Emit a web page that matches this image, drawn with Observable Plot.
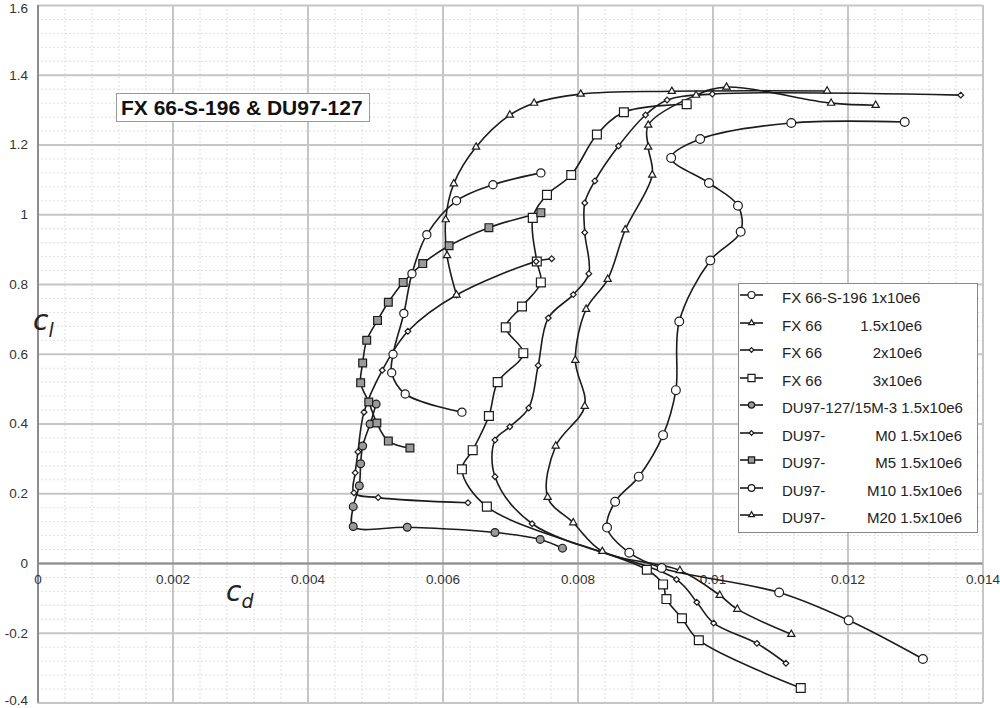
<!DOCTYPE html>
<html><head><meta charset="utf-8">
<script src="https://cdn.jsdelivr.net/npm/d3@7"></script>
<script src="https://cdn.jsdelivr.net/npm/@observablehq/plot@0.6"></script>
<style>
body{margin:0;background:#fff;}
#wrap{position:relative;width:1000px;height:708px;font-family:"Liberation Sans",Arial,sans-serif;}
#wrap svg{position:absolute;left:0;top:0;}
.title{position:absolute;left:116px;top:93px;width:248px;height:27px;border:1px solid #999;background:#fff;font-weight:bold;font-size:21px;line-height:28px;padding-left:4px;color:#111;box-sizing:content-box;}
.axl{position:absolute;font-family:"DejaVu Sans",sans-serif;font-style:italic;font-size:28px;line-height:28px;color:#222;}
.axl sub{font-size:19px;vertical-align:-7px;}
.legend{position:absolute;left:738px;top:283px;width:238px;height:248px;border:1px solid #888;background:#fff;}
.lrow{position:absolute;left:0;width:238px;height:20px;font-size:15px;line-height:20px;color:#222;}
.lrow svg{position:absolute;left:18px;top:3px;}
.lrow .l{position:absolute;left:43px;white-space:pre;}
.lrow .r{position:absolute;white-space:pre;text-align:right;}
</style></head><body><div id="wrap"></div>
<script>
// ---- data (cd, cl) ----
const fx1_cd = [0.01311,0.01201,0.01098,0.00924,0.00876,0.00843,0.00855,0.0089,0.00926,0.00945,0.0095,0.00996,0.01041,0.01037,0.00994,0.00938,0.00981,0.01116,0.01284];
const fx1_cl = [-0.274,-0.163,-0.083,-0.013,0.031,0.103,0.177,0.249,0.368,0.497,0.694,0.869,0.951,1.026,1.091,1.163,1.217,1.263,1.266];
const fx15_cd = [0.01116,0.01036,0.0101,0.00951,0.00836,0.00793,0.00755,0.00767,0.0081,0.00796,0.00812,0.00844,0.0087,0.0091,0.00904,0.00904,0.00975,0.0102,0.01175,0.01241];
const fx15_cl = [-0.203,-0.131,-0.091,-0.02,0.035,0.117,0.19,0.337,0.451,0.583,0.729,0.815,0.957,1.114,1.194,1.257,1.343,1.366,1.32,1.314];
const fx2_cd = [0.01108,0.01065,0.01001,0.00976,0.00946,0.00732,0.00677,0.00677,0.00699,0.00727,0.00741,0.00756,0.00793,0.00816,0.0081,0.0081,0.00825,0.0086,0.009,0.00932,0.00999,0.01367];
const fx2_cl = [-0.286,-0.229,-0.171,-0.111,-0.046,0.114,0.249,0.354,0.392,0.446,0.568,0.704,0.771,0.831,0.949,1.034,1.097,1.197,1.286,1.329,1.346,1.343];
const fx3_cd = [0.0113,0.00979,0.00954,0.00931,0.00926,0.00902,0.00665,0.00628,0.00644,0.00668,0.00681,0.00719,0.00693,0.00717,0.00745,0.00739,0.00733,0.00754,0.0079,0.00828,0.00868,0.00961];
const fx3_cl = [-0.357,-0.22,-0.157,-0.102,-0.06,-0.018,0.163,0.27,0.325,0.423,0.52,0.603,0.677,0.737,0.806,0.866,0.991,1.057,1.114,1.23,1.294,1.317];
const m3_cd = [0.00777,0.00744,0.00677,0.00547,0.00467,0.00467,0.00476,0.00478,0.00481,0.00492,0.00501];
const m3_cl = [0.044,0.069,0.089,0.104,0.106,0.163,0.223,0.286,0.337,0.40,0.457];
const m0_cd = [0.00637,0.00504,0.00468,0.0047,0.00474,0.00483,0.0051,0.00548,0.0062,0.00738,0.00761];
const m0_cl = [0.174,0.189,0.203,0.26,0.32,0.434,0.554,0.666,0.77,0.866,0.874];
const m5_cd = [0.00551,0.00519,0.00502,0.0049,0.00478,0.00481,0.00487,0.00503,0.00519,0.00541,0.0057,0.00609,0.00668,0.00745];
const m5_cl = [0.331,0.351,0.403,0.463,0.518,0.575,0.64,0.697,0.749,0.806,0.86,0.911,0.963,1.006];
const m10_cd = [0.00628,0.00544,0.00524,0.00526,0.00542,0.00554,0.00576,0.0062,0.00674,0.00745];
const m10_cl = [0.434,0.486,0.547,0.60,0.717,0.831,0.943,1.04,1.086,1.12];
const m20_cd = [0.0062,0.00606,0.00604,0.00616,0.00649,0.00699,0.00735,0.00804,0.00939,0.01169];
const m20_cl = [0.77,0.883,0.986,1.089,1.194,1.286,1.32,1.346,1.354,1.355];

const seriesNames = ["FX 66-S-196 1x10e6","FX 66 1.5x10e6","FX 66 2x10e6","FX 66 3x10e6","DU97-127/15M-3 1.5x10e6","DU97 M0 1.5x10e6","DU97 M5 1.5x10e6","DU97 M10 1.5x10e6","DU97 M20 1.5x10e6"];
const legendLeft  = ["FX 66-S-196 1x10e6","FX 66","FX 66","FX 66","DU97-127/15M-3 1.5x10e6","DU97-","DU97-","DU97-","DU97-"];
const legendRight = ["","1.5x10e6","2x10e6","3x10e6","","M0 1.5x10e6","M5 1.5x10e6","M10 1.5x10e6","M20 1.5x10e6"];

const xTicks = [0,0.002,0.004,0.006,0.008,0.010,0.012,0.014];
const xTickLabels = ["0","0.002","0.004","0.006","0.008","0.01","0.012","0.014"];
const yTicks = [-0.4,-0.2,0,0.2,0.4,0.6,0.8,1.0,1.2,1.4,1.6];
const yTickLabels = ["-0.4","-0.2","0","0.2","0.4","0.6","0.8","1","1.2","1.4","1.6"];
const titleText = "FX 66-S-196 & DU97-127";

// ---- styles per series ----
const cdArr = [fx1_cd,fx15_cd,fx2_cd,fx3_cd,m3_cd,m0_cd,m5_cd,m10_cd,m20_cd];
const clArr = [fx1_cl,fx15_cl,fx2_cl,fx3_cl,m3_cl,m0_cl,m5_cl,m10_cl,m20_cl];
const symbols = ["circle","triangle","diamond2","square","circle","diamond2","square","circle","triangle"];
const radii   = [4.4,2.7,2.6,5.0,3.9,2.6,4.4,4.1,2.7];
const fills   = ["white","white","white","white","#9a9a9a","white","#9a9a9a","white","white"];

const rows = [];
seriesNames.forEach((s,i)=>cdArr[i].forEach((cd,j)=>rows.push({series:s, cd, cl:clArr[i][j]})));

const minorX = d3.range(0,0.01401,0.0004);
const minorY = d3.range(-0.4,1.601,0.04);
const nY = yTicks.length;

const marks = [
  Plot.gridX(minorX, {stroke:"#d4d4d4", strokeOpacity:1, strokeDasharray:"1.5,2.5", strokeWidth:1}),
  Plot.gridY(minorY, {stroke:"#d4d4d4", strokeOpacity:1, strokeDasharray:"1.5,2.5", strokeWidth:1}),
  Plot.gridX(xTicks, {stroke:"#c6c6c6", strokeOpacity:1, strokeWidth:2}),
  Plot.gridY(yTicks, {stroke:"#c6c6c6", strokeOpacity:1, strokeWidth:2}),
  Plot.ruleX([0], {stroke:"#8c8c8c", strokeWidth:2}),
  Plot.ruleY([0], {stroke:"#8c8c8c", strokeWidth:2}),
  Plot.text(xTicks, {x:d=>d, y:0, dy:16, text:(d,i)=>xTickLabels[i], fill:"#333", fontSize:13.5}),
  Plot.text(yTicks, {x:0, y:d=>d, dx:-10, dy:0, textAnchor:"end", text:(d,i)=>yTickLabels[i], fill:"#333", fontSize:13.5,
    filter:(d,i)=>i>0 && i<nY-1}),
  Plot.text([yTicks[0]], {x:0, y:d=>d, dx:-10, dy:-2, textAnchor:"end", text:[yTickLabels[0]], fill:"#333", fontSize:13.5}),
  Plot.text([yTicks[nY-1]], {x:0, y:d=>d, dx:-10, dy:3, textAnchor:"end", text:[yTickLabels[nY-1]], fill:"#333", fontSize:13.5}),
  Plot.line(rows, {x:"cd", y:"cl", z:"series", curve:"catmull-rom", stroke:"#1c1c1c", strokeWidth:1.6})
];
seriesNames.forEach((s,i)=>{
  marks.push(Plot.dot(rows.filter(r=>r.series===s), {x:"cd", y:"cl", symbol:symbols[i], r:radii[i], fill:fills[i], stroke:"#1c1c1c", strokeWidth:1.2}));
});

const chart = Plot.plot({
  width:1000, height:708,
  marginLeft:37.5, marginRight:17.5, marginTop:5, marginBottom:5.5,
  x:{domain:[0,0.014], axis:null},
  y:{domain:[-0.4,1.6], axis:null},
  style:{fontFamily:"Liberation Sans, Arial, sans-serif", background:"white", overflow:"visible"},
  marks
});
const wrap = document.getElementById("wrap");
wrap.appendChild(chart);

// title box
const t = document.createElement("div"); t.className="title"; t.textContent=titleText; wrap.appendChild(t);

// axis titles
const yl = document.createElement("div"); yl.className="axl"; yl.style.left="33px"; yl.style.top="307px"; yl.innerHTML="c<sub>l</sub>"; wrap.appendChild(yl);
const xl = document.createElement("div"); xl.className="axl"; xl.style.left="226px"; xl.style.top="578px"; xl.innerHTML="c<sub>d</sub>"; wrap.appendChild(xl);

// legend
const lg = document.createElement("div"); lg.className="legend"; wrap.appendChild(lg);
const symMap = {circle:d3.symbolCircle, triangle:d3.symbolTriangle, diamond2:d3.symbolDiamond2, square:d3.symbolSquare};
seriesNames.forEach((s,i)=>{
  const row = document.createElement("div"); row.className="lrow"; row.style.top=(4+i*27.5)+"px";
  const sz = Math.PI*Math.pow(radii[i]*0.8,2);
  const path = d3.symbol(symMap[symbols[i]], sz)();
  row.innerHTML = `<svg width="26" height="14"><line x1="1" x2="24" y1="7" y2="7" stroke="#1c1c1c" stroke-width="1.6"/><path transform="translate(12.5,7)" d="${path}" fill="${fills[i]}" stroke="#1c1c1c" stroke-width="1.2"/></svg>`;
  const l = document.createElement("span"); l.className="l"; l.textContent=legendLeft[i]; row.appendChild(l);
  if (legendRight[i]) {
    const r = document.createElement("span"); r.className="r";
    r.style.right = (i<4 ? 55 : 15)+"px";
    r.textContent = legendRight[i]; row.appendChild(r);
  }
  lg.appendChild(row);
});
</script></body></html>
